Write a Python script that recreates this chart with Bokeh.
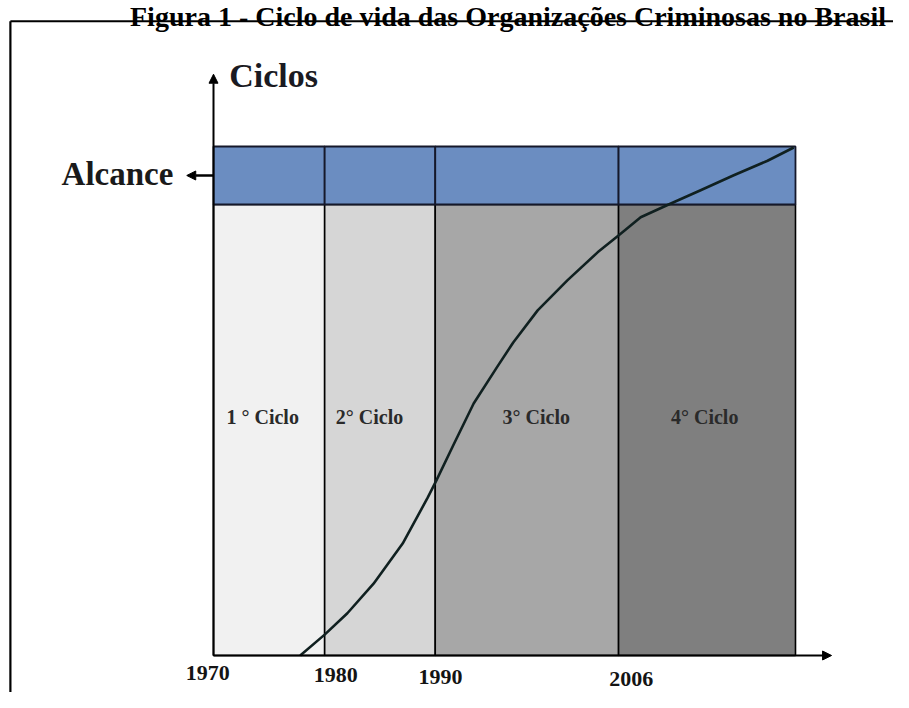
from bokeh.plotting import figure
from bokeh.models import Range1d, Arrow, NormalHead, ColumnDataSource
from bokeh.core.properties import value
from bokeh.embed import file_html
from bokeh.resources import INLINE

# ---------------- data ----------------
title = "Figura 1 - Ciclo de vida das Organizações Criminosas no Brasil"
cycles = ["1 ° Ciclo", "2° Ciclo", "3° Ciclo", "4° Ciclo"]
cycle_edges = [0, 19.1, 38.1, 69.6, 100]
years = ["1970", "1980", "1990", "2006"]
reach_low = 88.6
reach_high = 100
curve_x = [14.9, 19.1, 23.0, 27.5, 32.5, 36.8, 38.3, 41.2, 44.7, 48.8, 51.5,
           55.7, 60.8, 66.0, 69.8, 73.4, 78.2, 83.7, 89.3, 95.2, 99.7]
curve_y = [0.0, 4.1, 8.3, 14.1, 22.0, 31.0, 34.4, 41.3, 49.5, 56.8, 61.5,
           67.8, 73.7, 79.2, 82.7, 86.1, 88.6, 91.4, 94.3, 97.2, 99.8]

# ---------------- styling / layout ----------------
col_fills = ["#f1f1f1", "#d6d6d6", "#a7a7a7", "#7f7f7f"]
band_fill = "#6b8dc1"
serif = value("Liberation Serif")
label_dx = [-1.1, -1.8, 1.6, -0.4]       # offsets of cycle labels from column centres
year_dx = [-1.0, 1.9, 0.9, 2.2]          # offsets of year labels from the edges
year_dy = [-3.5, -3.9, -4.3, -4.7]

p = figure(width=893, height=692, output_backend="svg", toolbar_location=None,
           x_range=Range1d(-36.60, 116.84), y_range=Range1d(-7.27, 128.68),
           min_border=0, tools="")
p.axis.visible = False
p.grid.visible = False
p.outline_line_color = None
p.background_fill_color = "white"

# outer frame
p.line(x=[-34.9, -34.9], y=[-20, 124.6], line_color="black", line_width=2.2)
p.line(x=[-34.9, 130], y=[124.6, 124.6], line_color="black", line_width=2.2)

# title
p.text(x=[50.6], y=[125.6], text=[title], text_font=serif,
       text_font_style="bold", text_font_size="28px", text_align="center",
       text_baseline="alphabetic", text_color="black")

# cycle columns
src = ColumnDataSource(dict(
    left=cycle_edges[:-1], right=cycle_edges[1:],
    bottom=[0] * 4, top=[reach_low] * 4, fill=col_fills))
p.quad(left="left", right="right", bottom="bottom", top="top", source=src,
       fill_color="fill", line_color="black", line_width=1.6)

# reach band
p.quad(left=cycle_edges[:-1], right=cycle_edges[1:], bottom=[reach_low] * 4,
       top=[reach_high] * 4, fill_color=band_fill, line_color="#15182a",
       line_width=1.8)

# curve
p.line(curve_x, curve_y, line_color="#102020", line_width=2.6, line_join="round")

# axes arrows
head = dict(size=9, fill_color="black", line_color="black")
p.add_layout(Arrow(end=NormalHead(**head), x_start=0, y_start=0, x_end=0, y_end=114.2,
                   line_color="black", line_width=2))
p.add_layout(Arrow(end=NormalHead(**head), x_start=0, y_start=0, x_end=106.2, y_end=0,
                   line_color="black", line_width=2))
p.add_layout(Arrow(end=NormalHead(**head), x_start=0, y_start=94.3, x_end=-4.6, y_end=94.3,
                   line_color="black", line_width=2.5))

# axis labels
p.text(x=[2.7], y=[113.9], text=["Ciclos"], text_font=serif, text_font_style="bold",
       text_font_size="34px", text_align="left", text_baseline="alphabetic",
       text_color="#1a1a22")
p.text(x=[-6.9], y=[94.6], text=["Alcance"], text_font=serif, text_font_style="bold",
       text_font_size="33px", text_align="right", text_baseline="middle",
       text_color="#1a1a1a")

# cycle labels
cx = [(a + b) / 2 + d for a, b, d in zip(cycle_edges[:-1], cycle_edges[1:], label_dx)]
p.text(x=cx, y=[46.9] * 4, text=cycles, text_font=serif, text_font_style="bold",
       text_font_size="20px", text_align="center", text_baseline="middle",
       text_color="#2a2a2a")

# year labels
yx = [e + d for e, d in zip(cycle_edges[:-1], year_dx)]
p.text(x=yx, y=year_dy, text=years, text_font=serif, text_font_style="bold",
       text_font_size="22px", text_align="center", text_baseline="middle",
       text_color="#141414")

open("out.html", "w").write(file_html(p, INLINE))
